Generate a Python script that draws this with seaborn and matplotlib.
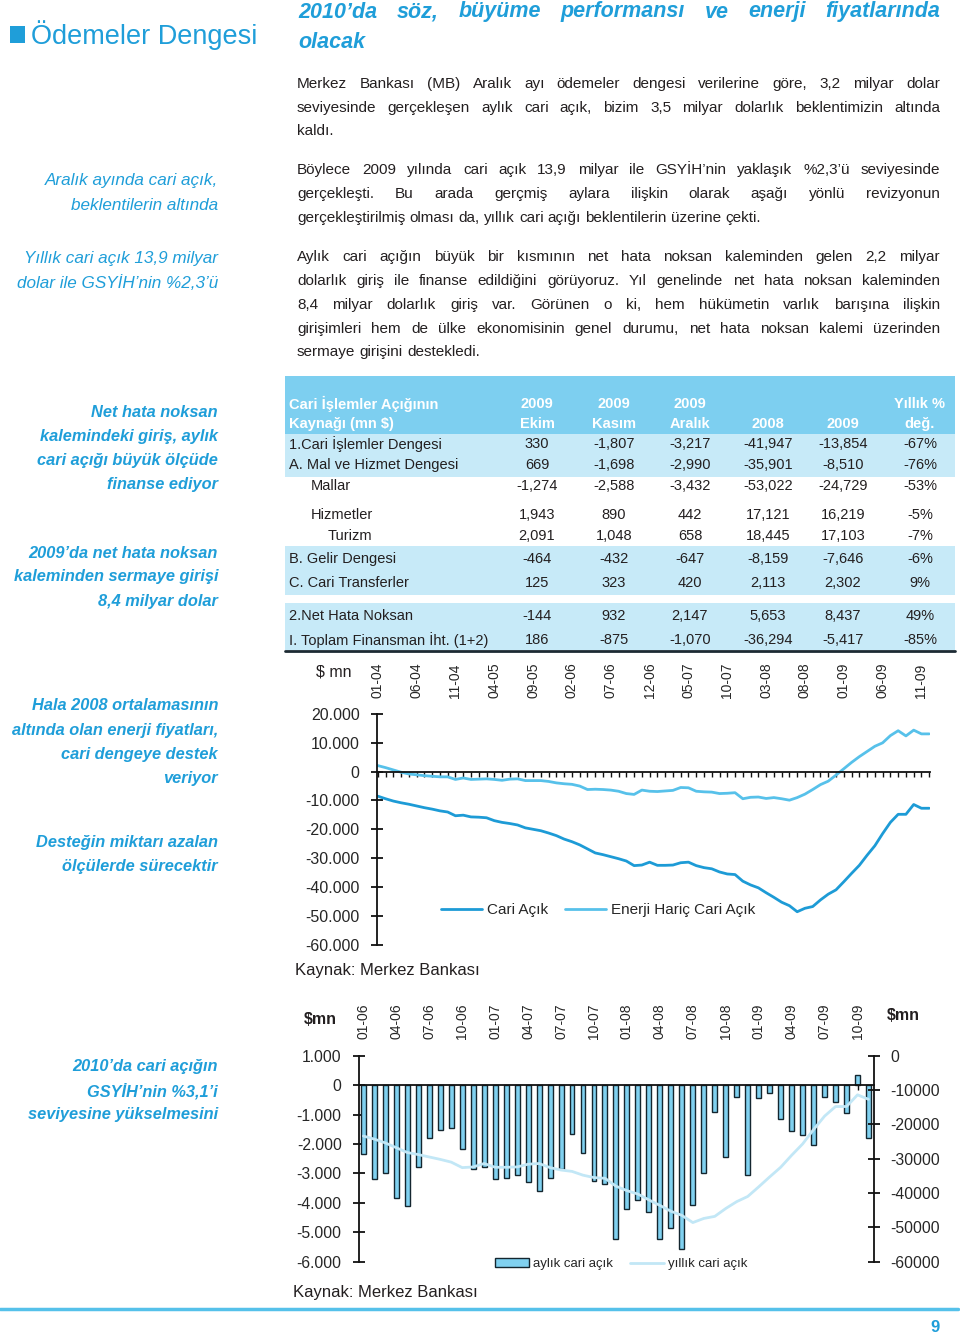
import numpy as np
import pandas as pd
import matplotlib
matplotlib.use('Agg')
import matplotlib.pyplot as plt
import seaborn as sns
from matplotlib.font_manager import FontProperties
from matplotlib.patches import Rectangle
from matplotlib.lines import Line2D

# --- data -------------------------------------------------------------------
# 12 aylık cari açık, 01-04 .. 12-09 (mn $)
cari_acik = [-8500, -9400, -10200, -10800, -11300, -11900, -12500, -13000, -13600, -14000,
             -15300, -15100, -15700, -15800, -16000, -17000, -17600, -18000, -18500, -19500,
             -20000, -20500, -21300, -22200, -23400, -24300, -25400, -26800, -28200, -28800,
             -29500, -30200, -31000, -32600, -32400, -31400, -32500, -32500, -32400, -31600,
             -31400, -32600, -33300, -33700, -34800, -35500, -35700, -38000, -39300, -40300,
             -42000, -43600, -45300, -46500, -48600, -47400, -46800, -44500, -42500, -41000,
             -38200, -35300, -32500, -29000, -25700, -21500, -17600, -14800, -14800, -11400,
             -12700, -12700]
enerji_haric = [2100, 1400, 600, -200, -800, -1100, -1400, -1600, -1800, -1800,
                -2700, -2200, -2700, -2600, -2500, -2700, -3000, -2600, -2500, -3100,
                -3100, -3100, -3400, -3900, -4200, -4400, -5000, -6200, -6100, -6200,
                -6400, -6800, -7600, -7900, -6400, -6800, -6900, -6700, -6500, -5500,
                -5600, -6800, -7000, -7100, -7600, -7500, -7300, -9400, -8900, -8800,
                -9300, -9000, -9400, -9900, -9000, -7800, -6200, -4500, -3300, -1200,
                1000, 3200, 5200, 7000, 8800, 10000, 12500, 14200, 12400, 14400,
                13100, 13100]
line_months = [f'{m:02d}-{y:02d}' for y in range(4, 10) for m in range(1, 13)]

# aylık cari açık, 01-06 .. 11-09 (mn $)
aylik = [-2350, -3200, -3000, -3820, -4110, -2780, -1780, -1510, -1450, -2160,
         -2840, -2780, -3200, -3150, -3070, -3300, -3610, -3150, -2850, -1670,
         -2300, -3250, -3350, -5230, -4200, -3900, -4300, -5230, -4850, -5570,
         -4060, -3000, -930, -2440, -420, -3070, -450, -280, -1140, -1560,
         -1680, -2050, -420, -570, -940, 330, -1807]
bar_months = line_months[24:24 + len(aylik)]
yillik = cari_acik[24:24 + len(aylik)]

# tablo
row_labels = ['1.Cari İşlemler Dengesi', 'A. Mal ve Hizmet Dengesi', 'Mallar', 'Hizmetler',
              'Turizm', 'B. Gelir Dengesi', 'C. Cari Transferler', '2.Net Hata Noksan',
              'I. Toplam Finansman İht. (1+2)']
ekim = [330, 669, -1274, 1943, 2091, -464, 125, -144, 186]
kasim = [-1807, -1698, -2588, 890, 1048, -432, 323, 932, -875]
aralik = [-3217, -2990, -3432, 442, 658, -647, 420, 2147, -1070]
y2008 = [-41947, -35901, -53022, 17121, 18445, -8159, 2113, 5653, -36294]
y2009 = [-13854, -8510, -24729, 16219, 17103, -7646, 2302, 8437, -5417]
yillik_deg = [-67, -76, -53, -5, -7, -6, 9, 49, -85]
head1 = ['2009', '2009', '2009', '', '', 'Yıllık %']
head2 = ['Ekim', 'Kasım', 'Aralık', '2008', '2009', 'değ.']

title = ['2010’da söz, büyüme performansı ve enerji fiyatlarında', 'olacak']
paragraphs = [
    ['Merkez Bankası (MB) Aralık ayı ödemeler dengesi verilerine göre, 3,2 milyar dolar',
     'seviyesinde gerçekleşen aylık cari açık, bizim 3,5 milyar dolarlık beklentimizin altında',
     'kaldı.'],
    ['Böylece 2009 yılında cari açık 13,9 milyar ile GSYİH’nin yaklaşık %2,3’ü seviyesinde',
     'gerçekleşti. Bu arada gerçmiş aylara ilişkin olarak aşağı yönlü revizyonun',
     'gerçekleştirilmiş olması da, yıllık cari açığı beklentilerin üzerine çekti.'],
    ['Aylık cari açığın büyük bir kısmının net hata noksan kaleminden gelen 2,2 milyar',
     'dolarlık giriş ile finanse edildiğini görüyoruz. Yıl genelinde net hata noksan kaleminden',
     '8,4 milyar dolarlık giriş var. Görünen o ki, hem hükümetin varlık barışına ilişkin',
     'girişimleri hem de ülke ekonomisinin genel durumu, net hata noksan kalemi üzerinden',
     'sermaye girişini destekledi.'],
]
side_notes = [
    ['Aralık ayında cari açık,', 'beklentilerin altında'],
    ['Yıllık cari açık 13,9 milyar', 'dolar ile GSYİH’nin %2,3’ü'],
    ['Net hata noksan', 'kalemindeki giriş, aylık', 'cari açığı büyük ölçüde', 'finanse ediyor'],
    ['2009’da net hata noksan', 'kaleminden sermaye girişi', '8,4 milyar dolar'],
    ['Hala 2008 ortalamasının', 'altında olan enerji fiyatları,', 'cari dengeye destek', 'veriyor'],
    ['Desteğin miktarı azalan', 'ölçülerde sürecektir'],
    ['2010’da cari açığın', 'GSYİH’nin %3,1’i', 'seviyesine yükselmesini'],
]

# --- style ------------------------------------------------------------------
W, H = 960, 1337
BLUE = '#1f9ed9'
TXT = '#231f20'
HEAD_BG = '#7dcff0'
ROW_BG = '#c7eaf8'
DARK_LINE = '#1d9bd6'
LIGHT_LINE = '#57c1ea'
BAR_FILL = '#80d1f0'
YILLIK = '#c2e7f6'

sns.set_style('ticks')
plt.rcParams['font.family'] = ['Liberation Sans', 'DejaVu Sans']

fig = plt.figure(figsize=(9.6, 13.37), dpi=100)
renderer = fig.canvas.get_renderer()


def fx(x):
    return x / W


def fy(y):
    return 1 - y / H


def put(x, y, s, **kw):
    kw.setdefault('va', 'center')
    return fig.text(fx(x), fy(y), s, **kw)


def width(s, fp):
    return renderer.get_text_width_height_descent(s, fp, ismath=False)[0]


def justify(x0, x1, y, line, fp, color, full=True):
    words = line.split()
    ws = [width(w, fp) for w in words]
    if full and len(words) > 1:
        gap = (x1 - x0 - sum(ws)) / (len(words) - 1)
    else:
        gap = width('a a', fp) - width('aa', fp)
    x = x0
    for w, wd in zip(words, ws):
        put(x, y, w, fontproperties=fp, color=color, ha='left')
        x += wd + gap


def box(x0, y0, x1, y1, color):
    fig.add_artist(Rectangle((fx(x0), fy(y1)), (x1 - x0) / W, (y1 - y0) / H,
                             transform=fig.transFigure, facecolor=color,
                             edgecolor='none', zorder=0))


# --- header & text ----------------------------------------------------------
box(10, 26, 25, 43, BLUE)
put(31, 35, 'Ödemeler Dengesi', fontsize=19.5, color=BLUE, ha='left')

fp_title = FontProperties(family='Liberation Sans', style='italic', weight='bold', size=15.5)
justify(298, 940, 12, title[0], fp_title, BLUE)
justify(298, 940, 42, title[1], fp_title, BLUE, full=False)

fp_body = FontProperties(family='Liberation Sans', size=11)
para_y = [[84, 108, 131], [170, 194, 218], [257, 281, 305, 329, 352]]
for lines, ys in zip(paragraphs, para_y):
    for k, (ln, y) in enumerate(zip(lines, ys)):
        justify(297, 940, y, ln, fp_body, TXT, full=k < len(lines) - 1)

side_y = [181, 259, 412, 553, 706, 842, 1067]
for k, (lines, y0) in enumerate(zip(side_notes, side_y)):
    for j, ln in enumerate(lines):
        if k < 2:
            put(218, y0 + 24 * j, ln, ha='right', color=BLUE, fontsize=12.3, style='italic')
        else:
            put(218, y0 + 24 * j, ln, ha='right', color=BLUE, fontsize=11.8,
                style='italic', weight='bold')

# --- table ------------------------------------------------------------------
box(285, 376, 955, 434, HEAD_BG)
box(285, 434, 955, 477, ROW_BG)
box(285, 546, 955, 595, ROW_BG)
box(285, 603, 955, 650, ROW_BG)
fig.add_artist(Line2D([fx(285), fx(955)], [fy(651), fy(651)], color='#1c2a33', lw=2,
                      transform=fig.transFigure))

col_x = [537, 614, 690, 768, 843, 920]
row_x = [289, 289, 311, 311, 328, 289, 289, 289, 289]
row_y = [444, 465, 486, 515, 536, 559, 583, 616, 640]
tfs = 10.5
put(289, 404, 'Cari İşlemler Açığının', fontsize=tfs, color='white', weight='bold', ha='left')
put(289, 424, 'Kaynağı (mn $)', fontsize=tfs, color='white', weight='bold', ha='left')
for cx, a, b in zip(col_x, head1, head2):
    put(cx, 404, a, fontsize=tfs, color='white', weight='bold', ha='center')
    put(cx, 424, b, fontsize=tfs, color='white', weight='bold', ha='center')
for i, lab in enumerate(row_labels):
    put(row_x[i], row_y[i], lab, fontsize=tfs, color=TXT, ha='left')
    vals = [f'{ekim[i]:,}', f'{kasim[i]:,}', f'{aralik[i]:,}', f'{y2008[i]:,}',
            f'{y2009[i]:,}', f'{yillik_deg[i]}%']
    for cx, v in zip(col_x, vals):
        put(cx, row_y[i], v, fontsize=tfs, color=TXT, ha='center')

# --- chart 1: cari açık ------------------------------------------------------
ax1 = fig.add_axes([fx(377), fy(944.6), (930 - 377) / W, (944.6 - 714) / H])
df1 = pd.DataFrame({'ay': np.arange(len(cari_acik)), 'cari': cari_acik, 'enerji': enerji_haric})
sns.lineplot(data=df1, x='ay', y='cari', ax=ax1, color=DARK_LINE, lw=2.0, label='Cari Açık')
sns.lineplot(data=df1, x='ay', y='enerji', ax=ax1, color=LIGHT_LINE, lw=2.0,
             label='Enerji Hariç Cari Açık')
ax1.set_xlim(-0.1, len(cari_acik) - 0.9)
ax1.set_ylim(-60000, 20000)
y1_ticks = list(range(20000, -60001, -10000))
ax1.set_yticks(y1_ticks)
ax1.set_yticklabels([f'{v:,}'.replace(',', '.') for v in y1_ticks])
ax1.set_xticks(range(0, len(cari_acik), 5))
ax1.set_xticklabels(line_months[::5])
ax1.set_xticks(range(len(cari_acik)), minor=True)
ax1.set_xlabel('')
ax1.set_ylabel('')
ax1.spines['bottom'].set_position(('data', 0))
for s in ['top', 'right']:
    ax1.spines[s].set_visible(False)
for s in ['left', 'bottom']:
    ax1.spines[s].set_linewidth(1.3)
    ax1.spines[s].set_color('#111111')
ax1.tick_params(axis='x', which='both', bottom=True, top=False, labelbottom=False,
                labeltop=True, direction='out', length=3.5, width=1, color='#111111',
                labelrotation=90, labelsize=10, pad=8)
ax1.tick_params(axis='y', direction='inout', length=9, width=1.3, color='#111111',
                labelsize=11.5, pad=8)
ax1.legend(loc='center', bbox_to_anchor=(fx(598), fy(910)), bbox_transform=fig.transFigure,
           ncol=2, frameon=False, fontsize=11, handlelength=2.7, handletextpad=0.3,
           columnspacing=1.1)
put(334, 672, '$ mn', fontsize=11.5, color=TXT, ha='center')
put(295, 970, 'Kaynak: Merkez Bankası', fontsize=12, color=TXT, ha='left')

# --- chart 2: aylık / yıllık cari açık --------------------------------------
ax2 = fig.add_axes([fx(359), fy(1261.7), (874 - 359) / W, (1261.7 - 1055.7) / H])
df2 = pd.DataFrame({'ay': bar_months, 'aylik': aylik})
sns.barplot(data=df2, x='ay', y='aylik', ax=ax2, color=BAR_FILL, saturation=1,
            edgecolor='#14262f', linewidth=1.0, width=0.45, label='aylık cari açık')
ax2.set_xlim(-0.4, len(aylik) - 0.5)
ax2.set_ylim(-6000, 1000)
y2_ticks = list(range(1000, -6001, -1000))
ax2.set_yticks(y2_ticks)
ax2.set_yticklabels([f'{v:,}'.replace(',', '.') for v in y2_ticks])
ax2.set_xticks(range(0, len(aylik), 3))
ax2.set_xticklabels(bar_months[::3])
ax2.set_xticks(range(len(aylik)), minor=True)
ax2.set_xlabel('')
ax2.set_ylabel('')
ax2.spines['bottom'].set_position(('data', 0))
for s in ['top', 'right']:
    ax2.spines[s].set_visible(False)
for s in ['left', 'bottom']:
    ax2.spines[s].set_linewidth(1.3)
    ax2.spines[s].set_color('#111111')
ax2.tick_params(axis='x', which='both', bottom=True, top=False, labelbottom=False,
                labeltop=True, direction='out', length=3.5, width=1, color='#111111',
                labelrotation=90, labelsize=10, pad=8.5)
ax2.tick_params(axis='y', direction='inout', length=9, width=1.3, color='#111111',
                labelsize=11.3, pad=8)

ax3 = ax2.twinx()
sns.lineplot(x=np.arange(len(yillik)), y=yillik, ax=ax3, color=YILLIK, lw=2.0,
             label='yıllık cari açık')
ax3.set_ylim(-60000, 0)
y3_ticks = list(range(0, -60001, -10000))
ax3.set_yticks(y3_ticks)
ax3.set_yticklabels([str(v) for v in y3_ticks])
ax3.set_ylabel('')
for s in ['top', 'bottom', 'left']:
    ax3.spines[s].set_visible(False)
ax3.spines['right'].set_linewidth(1.3)
ax3.spines['right'].set_color('#111111')
ax3.tick_params(axis='y', direction='inout', length=9, width=1.3, color='#111111',
                labelsize=11.3, pad=7)
for a in (ax2, ax3):
    if a.get_legend() is not None:
        a.get_legend().remove()
h1, l1 = ax2.get_legend_handles_labels()
h2, l2 = ax3.get_legend_handles_labels()
ax3.legend(h1 + h2, l1 + l2, loc='center', bbox_to_anchor=(fx(621), fy(1264)),
           bbox_transform=fig.transFigure, ncol=2, frameon=False, fontsize=9.5,
           handlelength=2.6, handleheight=0.6, handletextpad=0.3, columnspacing=1.3)
put(320, 1020, '$mn', fontsize=11.5, color=TXT, ha='center', weight='bold')
put(903, 1016, '$mn', fontsize=11.5, color=TXT, ha='center', weight='bold')
put(293, 1293, 'Kaynak: Merkez Bankası', fontsize=12, color=TXT, ha='left')

fig.add_artist(Line2D([fx(0), fx(958)], [fy(1309), fy(1309)], color='#55c1ea', lw=2.5,
                      transform=fig.transFigure))
put(935, 1328, '9', fontsize=12, color=BLUE, weight='bold', ha='center')

fig.savefig('out.png', dpi=100)
